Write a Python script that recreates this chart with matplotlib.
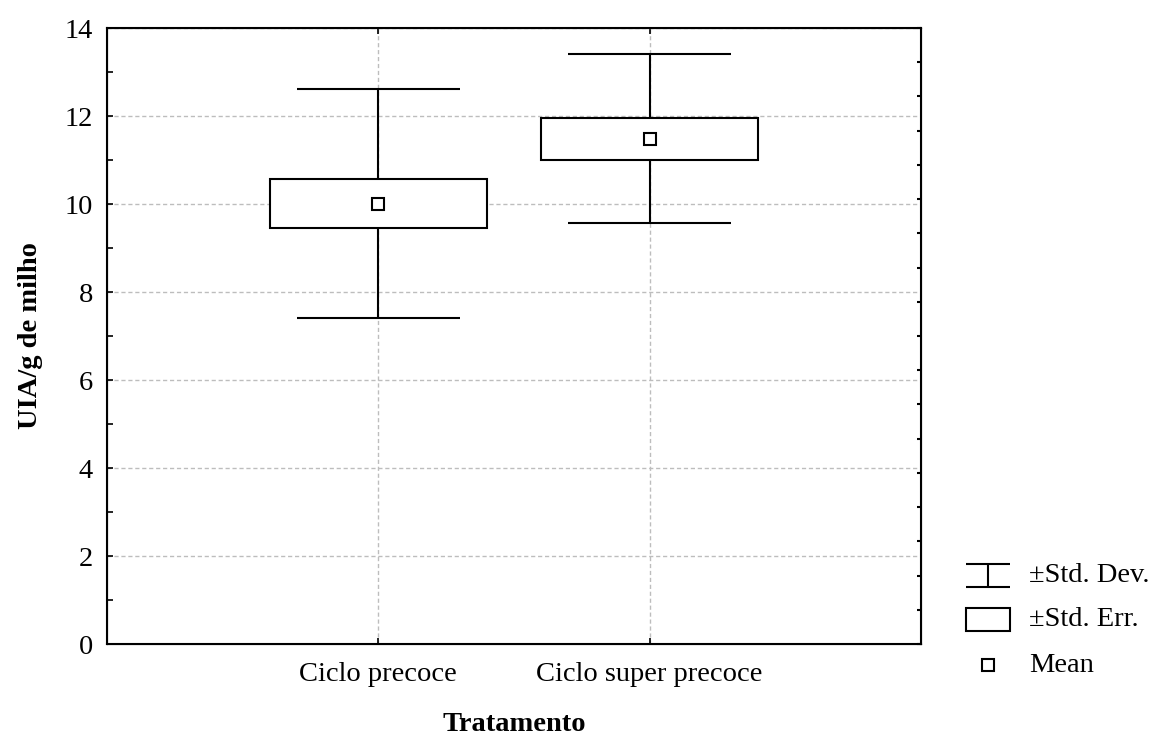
import matplotlib
matplotlib.use("Agg")
import matplotlib.pyplot as plt
from matplotlib.ticker import MultipleLocator, NullFormatter

plt.rcParams['font.family'] = ['Liberation Serif', 'DejaVu Serif']
plt.rcParams['font.size'] = 20.5

# Treatment summaries (UIA/g de milho)
groups = ["Ciclo precoce", "Ciclo super precoce"]
means = [10.01, 11.48]
std_err = [0.565, 0.48]
std_dev = [2.60, 1.92]

positions = [1, 2]
box_w = 0.8
cap_w = 0.6

fig = plt.figure(figsize=(11.57, 7.38), dpi=100)
ax = fig.add_axes([107 / 1157, 94 / 738, (921 - 107) / 1157, (644 - 28) / 738])

# whiskers: mean +/- std dev
for x, m, sd in zip(positions, means, std_dev):
    ax.vlines(x, m - sd, m + sd, color="black", lw=1.5, zorder=2)
    ax.hlines([m - sd, m + sd], x - cap_w / 2, x + cap_w / 2, color="black", lw=1.5, zorder=2)

# boxes: mean +/- std err
lo = [m - se for m, se in zip(means, std_err)]
ax.bar(positions, [2 * se for se in std_err], bottom=lo, width=box_w,
       facecolor="white", edgecolor="black", lw=1.5, zorder=3)

# mean markers
ax.plot(positions, means, ls="none", marker="s", ms=9, mfc="white", mec="black", mew=1.5, zorder=4)

ax.set_xlim(0, 3)
ax.set_ylim(0, 14)
ax.set_xticks(positions)
ax.set_xticklabels(groups)
ax.yaxis.set_major_locator(MultipleLocator(2))
ax.yaxis.set_minor_locator(MultipleLocator(1))
ax.tick_params(which="both", direction="in", top=True, right=False, length=4, width=1.2)
ax.tick_params(axis="x", pad=13)
ax.tick_params(axis="y", pad=10)
for s in ax.spines.values():
    s.set_linewidth(1.5)
ax.grid(True, color="#bdbdbd", ls=(0, (3, 2)), lw=1.0, zorder=0)
ax.set_axisbelow(True)

# right-hand scale ticks (unlabelled)
rax = ax.twinx()
rax.set_ylim(0, 18)
rax.yaxis.set_major_locator(MultipleLocator(1))
rax.yaxis.set_major_formatter(NullFormatter())
rax.tick_params(direction="in", length=3, width=1.5)

ax.set_xlabel("Tratamento", fontweight="bold", labelpad=18)
ax.set_ylabel("UIA/g de milho", fontweight="bold", labelpad=16)

# legend drawn in figure pixels
lax = fig.add_axes([0, 0, 1, 1])
lax.set_xlim(0, 1157)
lax.set_ylim(738, 0)
lax.axis("off")
lax.hlines([564, 587], 966, 1010, color="black", lw=1.5)
lax.vlines(988, 564, 587, color="black", lw=1.5)
lax.add_patch(plt.Rectangle((966, 608), 44, 23, facecolor="white", edgecolor="black", lw=1.5))
lax.plot([988], [665], ls="none", marker="s", ms=8, mfc="white", mec="black", mew=1.5)
for y, t in zip([575, 620, 665], ["±Std. Dev.", "±Std. Err.", "Mean"]):
    lax.text(1029, y, t, va="center", ha="left")

fig.savefig("out.png", dpi=100)
